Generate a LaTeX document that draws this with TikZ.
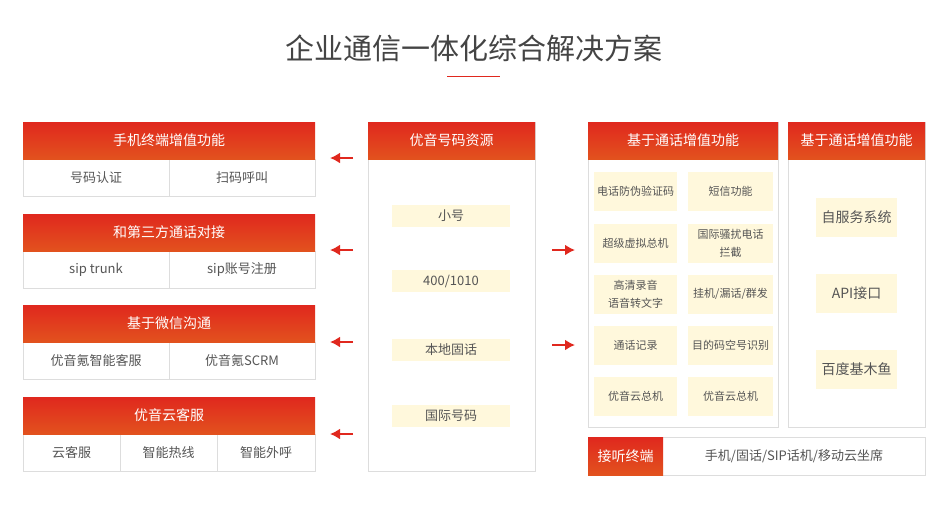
\documentclass[tikz,border=0pt]{standalone}
\usepackage{fontspec}
\usetikzlibrary{arrows.meta}
\setmainfont{Noto Sans CJK SC}
\begin{document}
\begin{tikzpicture}[x=1pt,y=-1pt,
  cell/.style={draw=lineg,line width=0.8pt,fill=white},
  yel/.style={fill=yel1,draw=none},
  hd/.style={text=white,font=\fontsize{14}{15}\selectfont},
  txt/.style={text=txtg,font=\fontsize{13}{17}\selectfont,align=center},
  arr/.style={-{Latex[length=10pt,width=11pt]},draw=red1,line width=2.5pt}]
\definecolor{red1}{HTML}{E0281E}
\definecolor{red2}{HTML}{E2521E}
\definecolor{lineg}{HTML}{DDDDDD}
\definecolor{yel1}{HTML}{FFF8DC}
\definecolor{txtg}{HTML}{555555}
\useasboundingbox (0,0) rectangle (949,504);
\node[text=txtg!80!black,font=\fontsize{29}{30}\selectfont] (title) at (474,48) {企业通信一体化综合解决方案};
\draw[red1,line width=1pt] (447,76) -- (500,76);
% left panels
\foreach \y/\h/\a/\b [count=\i] in {122/手机终端增值功能/号码认证/扫码呼叫,214/和第三方通话对接/sip trunk/sip账号注册,305/基于微信沟通/优音氪智能客服/优音氪SCRM}{
  \draw[cell] (23,\y+37) rectangle (315,\y+74);
  \draw[lineg,line width=0.8pt] (169,\y+37) -- (169,\y+74);
  \shade[top color=red1,bottom color=red2] (23,\y) rectangle (315,\y+37);
  \node[hd] (h\i) at (169,\y+18.5) {\h};
  \node[txt] (a\i) at (96,\y+55.5) {\a};
  \node[txt] (b\i) at (242,\y+55.5) {\b};
}
\draw[cell] (23,434) rectangle (315,471);
\draw[lineg,line width=0.8pt] (120,434) -- (120,471) (217,434) -- (217,471);
\shade[top color=red1,bottom color=red2] (23,397) rectangle (315,434);
\node[hd] (h4) at (169,415.5) {优音云客服};
\node[txt] (c1) at (71.5,452.5) {云客服};
\node[txt] (c2) at (168.5,452.5) {智能热线};
\node[txt] (c3) at (266,452.5) {智能外呼};
% middle
\draw[cell] (368,122) rectangle (535,471);
\shade[top color=red1,bottom color=red2] (368,122) rectangle (535,159);
\node[hd] (mh) at (451.5,140.5) {优音号码资源};
\foreach \y/\t [count=\i] in {216/{小号},281/{400/1010},350/{本地固话},416/{国际号码}}{
  \node[yel,minimum width=118pt,minimum height=22pt,txt] (m\i) at (451,\y) {\t};
}
\foreach \y in {158,250,342,434}{
  \coordinate (ls\y) at (353,\y); \coordinate (le\y) at (330,\y);
  \draw[arr] (ls\y) -- (le\y);
}
\foreach \y in {250,345}{
  \coordinate (rs\y) at (552,\y); \coordinate (re\y) at (575,\y);
  \draw[arr] (rs\y) -- (re\y);
}
% right box 1
\draw[cell] (588,122) rectangle (778,427);
\shade[top color=red1,bottom color=red2] (588,122) rectangle (778,159);
\node[hd] (r1h) at (683,140.5) {基于通话增值功能};
\foreach \y/\a/\b [count=\i] in {191.5/{电话防伪验证码}/{短信功能},243/{超级虚拟总机}/{国际骚扰电话\\拦截},294/{高清录音\\语音转文字}/{挂机/漏话/群发},345.5/{通话记录}/{目的码空号识别},396.5/{优音云总机}/{优音云总机}}{
  \node[yel,minimum width=83pt,minimum height=39pt,txt,font=\fontsize{11}{18}\selectfont] (p\i) at (635.5,\y) {\a};
  \node[yel,minimum width=85pt,minimum height=39pt,txt,font=\fontsize{11}{18}\selectfont] (q\i) at (730.5,\y) {\b};
}
% right box 2
\draw[cell] (788,122) rectangle (925,427);
\shade[top color=red1,bottom color=red2] (788,122) rectangle (925,159);
\node[hd] (r2h) at (856.5,140.5) {基于通话增值功能};
\foreach \y/\t [count=\i] in {217/{自服务系统},293.5/{API接口},369.5/{百度基木鱼}}{
  \node[yel,minimum width=81pt,minimum height=39pt,txt,font=\fontsize{14}{17}\selectfont] (s\i) at (856.5,\y) {\t};
}
% bottom
\draw[cell] (588,437) rectangle (925,475);
\shade[top color=red1,bottom color=red2] (588,437) rectangle (663,475);
\node[hd] (bh) at (625.5,456) {接听终端};
\node[txt] (bt) at (794,456) {手机/固话/SIP话机/移动云坐席};
\end{tikzpicture}
\end{document}
